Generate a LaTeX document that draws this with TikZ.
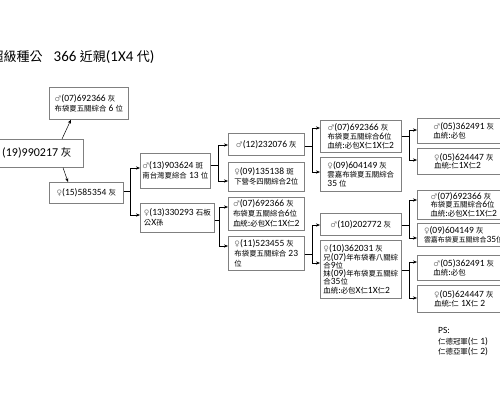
\documentclass[tikz,border=0pt]{standalone}
\usepackage{fontspec}
\setmainfont{Carlito}
\newfontfamily\cjk[Scale=0.78]{Noto Sans CJK TC}
\newfontfamily\cjkb{Noto Sans CJK TC}
\newfontfamily\symf[Scale=0.8]{DejaVu Sans}
\usetikzlibrary{arrows.meta}
\newcommand\zh[1]{{\cjk #1}}
\newcommand\zht[1]{{\cjkb\fontsize{13}{14}\selectfont #1}}
\newcommand\sexm{{\color{black!50}\symf ♂}}
\newcommand\sexf{{\color{black!50}\symf ♀}}
\begin{document}
\begin{tikzpicture}[x=1pt,y=-1pt,
  box/.style={draw=black!50, line width=0.6pt, fill=white, anchor=north west,
    inner xsep=2pt, inner ysep=1pt, align=left, font=\fontsize{9.5}{10}\selectfont},
  tight/.style={font=\fontsize{9.5}{8.6}\selectfont},
  conn/.style={draw=black, line width=0.5pt, -{Stealth[length=4pt,width=3.2pt]}}]
\useasboundingbox (0,0) rectangle (500,400);
\fill[white] (0,0) rectangle (500,400);

\node[anchor=west, inner sep=0, font=\fontsize{15}{16}\selectfont] (title) at (-9.5,57)
  {\zht{超級種公}\hspace{11pt}366 \zht{近親}(1X4 \zht{代})};

\node[box, minimum width=93pt, minimum height=28pt, align=center, font=\fontsize{12}{13}\selectfont] (root) at (-10,139)
  {(19)990217 {\cjkb\fontsize{10.5}{12}\selectfont 灰}};

\node[box, minimum width=79pt, minimum height=32pt] (sire) at (49,87)
  {\sexm(07)692366 \zh{灰}\\\zh{布袋夏五關綜合} 6 \zh{位}};
\node[box, minimum width=74pt, minimum height=21pt] (dam) at (49,182)
  {\sexf(15)585354 \zh{灰}};

\node[box, minimum width=70pt, minimum height=35pt] (g2a) at (140,153)
  {\sexm(13)903624 \zh{斑}\\\zh{南台灣夏綜合} 13 \zh{位}};
\node[box, minimum width=74pt, minimum height=29pt] (g2b) at (140,203)
  {\sexf(13)330293 \zh{石板}\\\zh{公}X\zh{孫}};

\node[box, minimum width=76pt, minimum height=22pt] (g3a) at (228,133)
  {\sexm(12)232076 \zh{灰}};
\node[box, minimum width=76pt, minimum height=29pt] (g3b) at (228,162)
  {\sexf(09)135138 \zh{斑}\\\zh{下營冬四關綜合}2\zh{位}};
\node[box, minimum width=76pt, minimum height=33pt] (g3c) at (228,197)
  {\sexm(07)692366 \zh{灰}\\\zh{布袋夏五關綜合}6\zh{位}\\\zh{血統}:\zh{必包}X\zh{仁}1X\zh{仁}2};
\node[box, minimum width=76pt, minimum height=34pt] (g3d) at (228,236)
  {\sexf(11)523455 \zh{灰}\\\zh{布袋夏五關綜合} 23\\\zh{位}};

\node[box, tight, minimum width=81pt, minimum height=32pt] (g4a) at (320,120)
  {\sexm(07)692366 \zh{灰}\\\zh{布袋夏五關綜合}6\zh{位}\\\zh{血統}:\zh{必包}X\zh{仁}1X\zh{仁}2};
\node[box, tight, minimum width=81pt, minimum height=34pt] (g4b) at (320,157)
  {\sexf(09)604149 \zh{灰}\\\zh{雲嘉布袋夏五關綜合}\\35 \zh{位}};
\node[box, tight, minimum width=81pt, minimum height=22pt] (g4c) at (320,213)
  {\sexm(10)202772 \zh{灰}};
\node[box, tight, minimum width=81pt, minimum height=58pt, font=\fontsize{9.5}{8.3}\selectfont] (g4d) at (320,240)
  {\sexf(10)362031 \zh{灰}\\\zh{兄}(07)\zh{年布袋春八關綜}\\\zh{合}9\zh{位}\\\zh{妹}(09)\zh{年布袋夏五關綜}\\\zh{合}35\zh{位}\\\zh{血統}:\zh{必包}X\zh{仁}1X\zh{仁}2};

\node[box, tight, minimum width=93pt, minimum height=25pt] (g5a) at (417,118)
  {\sexm(05)362491 \zh{灰}\\\zh{血統}:\zh{必包}};
\node[box, tight, minimum width=93pt, minimum height=26pt] (g5b) at (417,148)
  {\sexf(05)624447 \zh{灰}\\\zh{血統}:\zh{仁}1X\zh{仁}2};
\node[box, tight, minimum width=93pt, minimum height=29pt] (g5c) at (417,190)
  {\sexm(07)692366 \zh{灰}\\\zh{布袋夏五關綜合}6\zh{位}\\\zh{血統}:\zh{必包}X\zh{仁}1X\zh{仁}2};
\node[box, tight, minimum width=93pt, minimum height=23pt, inner xsep=1pt] (g5d) at (417,223)
  {\sexf(09)604149 \zh{灰}\\{\cjk\fontsize{8.9}{8.6}\selectfont 雲嘉布袋夏五關綜合}35\zh{位}};
\node[box, tight, minimum width=93pt, minimum height=25pt] (g5e) at (417,255)
  {\sexm(05)362491 \zh{灰}\\\zh{血統}:\zh{必包}};
\node[box, tight, minimum width=93pt, minimum height=27pt] (g5f) at (417,285)
  {\sexf(05)624447 \zh{灰}\\\zh{血統}:\zh{仁} 1X\zh{仁} 2};

\node[anchor=north west, inner sep=0, align=left, font=\fontsize{9.5}{10.8}\selectfont] (ps) at (438,327)
  {PS:\\\zh{仁德冠軍}(\zh{仁} 1)\\\zh{仁德亞軍}(\zh{仁} 2)};

\draw[conn] (root.north -| 62,0) -- (sire.south -| 71,0);
\draw[conn] (root.south -| 63,0) -- (dam.north -| 68,0);

\draw[conn] (dam.east |- 0,191) -- ++(7,0) |- (g2a.west |- 0,168);
\draw[conn] (dam.east |- 0,191) -- ++(7,0) |- (g2b.west |- 0,215);
\draw[conn] (g2a.east |- 0,165) -- ++(8,0) |- (g3a.west |- 0,145);
\draw[conn] (g2a.east |- 0,165) -- ++(8,0) |- (g3b.west |- 0,181);
\draw[conn] (g2b.east |- 0,220) -- ++(5,0) |- (g3c.west |- 0,207);
\draw[conn] (g2b.east |- 0,220) -- ++(5,0) |- (g3d.west |- 0,246);
\draw[conn] (g3a.east |- 0,146) -- ++(8,0) |- (g4a.west |- 0,128);
\draw[conn] (g3a.east |- 0,146) -- ++(8,0) |- (g4b.west |- 0,172);
\draw[conn] (g3d.east |- 0,254) -- ++(8,0) |- (g4c.west |- 0,225);
\draw[conn] (g3d.east |- 0,254) -- ++(8,0) |- (g4d.west |- 0,263);
\draw[conn] (g4a.east |- 0,136) -- ++(8,0) |- (g5a.west |- 0,130);
\draw[conn] (g4a.east |- 0,136) -- ++(8,0) |- (g5b.west |- 0,160);
\draw[conn] (g4c.east |- 0,225) -- ++(8,0) |- (g5c.west |- 0,200);
\draw[conn] (g4c.east |- 0,225) -- ++(8,0) |- (g5d.west |- 0,238);
\draw[conn] (g4d.east |- 0,270) -- ++(8,0) |- (g5e.west |- 0,262);
\draw[conn] (g4d.east |- 0,270) -- ++(8,0) |- (g5f.west |- 0,298);
\end{tikzpicture}
\end{document}
